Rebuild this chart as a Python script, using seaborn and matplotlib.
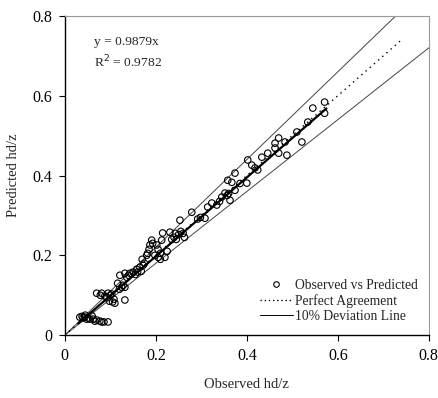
import numpy as np
import pandas as pd
import matplotlib
matplotlib.use("Agg")
import matplotlib.pyplot as plt
import seaborn as sns
from matplotlib.lines import Line2D

observed = [0.033, 0.038, 0.040, 0.044, 0.048, 0.051, 0.055, 0.062, 0.066, 0.070, 0.077, 0.081,
            0.086, 0.095, 0.060, 0.045,
            0.070, 0.078, 0.081, 0.088, 0.092, 0.095, 0.100, 0.103, 0.098, 0.105, 0.110, 0.108,
            0.132, 0.116, 0.121, 0.125, 0.132, 0.120, 0.128, 0.136, 0.132, 0.140, 0.143, 0.150,
            0.155, 0.160, 0.158, 0.165, 0.168, 0.172, 0.175, 0.170, 0.180, 0.182, 0.187, 0.185,
            0.193, 0.191, 0.202, 0.205, 0.198, 0.210, 0.205, 0.213, 0.215, 0.210, 0.220, 0.225,
            0.231, 0.235, 0.240, 0.243, 0.250, 0.255, 0.253, 0.245, 0.260, 0.263, 0.279, 0.292,
            0.298, 0.308, 0.314, 0.323, 0.334, 0.345, 0.340, 0.363, 0.352, 0.357, 0.358, 0.367,
            0.374, 0.374, 0.360, 0.385, 0.400, 0.402, 0.411, 0.418, 0.424, 0.433, 0.446, 0.462,
            0.462, 0.470, 0.470, 0.484, 0.488, 0.510, 0.521, 0.534, 0.545, 0.571, 0.571]
predicted = [0.045, 0.047, 0.043, 0.045, 0.040, 0.043, 0.040, 0.040, 0.035, 0.038, 0.035, 0.033,
             0.033, 0.033, 0.048, 0.050,
             0.105, 0.100, 0.105, 0.098, 0.095, 0.105, 0.100, 0.103, 0.085, 0.083, 0.080, 0.090,
             0.088, 0.130, 0.150, 0.120, 0.120, 0.115, 0.125, 0.145, 0.155, 0.150, 0.155, 0.158,
             0.152, 0.158, 0.165, 0.170, 0.160, 0.175, 0.180, 0.190, 0.200, 0.205, 0.226, 0.215,
             0.230, 0.238, 0.226, 0.195, 0.200, 0.205, 0.215, 0.238, 0.256, 0.190, 0.195, 0.210,
             0.258, 0.240, 0.245, 0.255, 0.252, 0.260, 0.288, 0.240, 0.255, 0.245, 0.308, 0.291,
             0.295, 0.293, 0.321, 0.331, 0.326, 0.346, 0.335, 0.338, 0.356, 0.350, 0.388, 0.383,
             0.406, 0.363, 0.355, 0.380, 0.381, 0.439, 0.426, 0.419, 0.414, 0.446, 0.456, 0.481,
             0.469, 0.494, 0.456, 0.484, 0.451, 0.509, 0.484, 0.534, 0.569, 0.584, 0.556]

fit_slope = 0.9879
fit_range = [0.03, 0.575]
perfect_range = [0.0, 0.74]
upper_dev = 1.1
lower_dev = 0.9
dev_range = [0.0, 0.8]
ticks = [0, 0.2, 0.4, 0.6, 0.8]
tick_labels = ["0", "0.2", "0.4", "0.6", "0.8"]

sns.set_style("white")
plt.rcParams['font.family'] = ['Liberation Serif', 'DejaVu Serif']

fig = plt.figure(figsize=(4.38, 3.98), dpi=100)
ax = fig.add_axes([0.148, 0.158, 0.831, 0.802])

df = pd.DataFrame({"obs": observed, "pred": predicted})
fx = np.array(fit_range)
dx = np.array(dev_range)
px = np.array(perfect_range)

sns.lineplot(x=dx, y=upper_dev * dx, ax=ax, color="#444444", lw=0.7)
sns.lineplot(x=dx, y=lower_dev * dx, ax=ax, color="#444444", lw=0.7)
sns.lineplot(x=px, y=px, ax=ax, color="black", lw=1.0, linestyle=(0, (1, 3)))
sns.lineplot(x=fx, y=fit_slope * fx, ax=ax, color="black", lw=1.6)
sns.scatterplot(data=df, x="obs", y="pred", ax=ax, marker="o", s=22,
                facecolor="none", edgecolor="black", linewidth=0.8, zorder=5)

ax.set_xlim(0, 0.8)
ax.set_ylim(0, 0.8)
ax.set_xticks(ticks)
ax.set_xticklabels(tick_labels)
ax.set_yticks(ticks)
ax.set_yticklabels(tick_labels)
ax.tick_params(axis="both", direction="out", length=4, width=0.8, labelsize=11.5,
               bottom=True, left=True, pad=5, colors="black")
ax.set_xlabel("Observed hd/z", fontsize=10.5, labelpad=10)
ax.set_ylabel("Predicted hd/z", fontsize=10.5, labelpad=9)

for s in ["left", "bottom"]:
    ax.spines[s].set_color("black")
    ax.spines[s].set_linewidth(1.0)
for s in ["top", "right"]:
    ax.spines[s].set_color("#999999")
    ax.spines[s].set_linewidth(0.8)

ax.text(0.064, 0.727, "y = 0.9879x", fontsize=9.7, transform=ax.transData)
ax.text(0.064, 0.672, "R$^2$ = 0.9782", fontsize=9.7, transform=ax.transData)

handles = [
    Line2D([], [], marker="o", linestyle="none", markerfacecolor="none",
           markeredgecolor="black", markersize=4, markeredgewidth=0.8),
    Line2D([], [], color="black", lw=1.0, linestyle=(0, (1, 2))),
    Line2D([], [], color="black", lw=0.7),
]
labels = ["Observed vs Predicted", "Perfect Agreement", "10% Deviation Line"]
ax.legend(handles, labels, loc="lower right", frameon=False, fontsize=9.8,
          handlelength=2.4, handletextpad=0.2, labelspacing=0.15,
          bbox_to_anchor=(1.005, 0.0))

fig.savefig("out.png", dpi=100)
